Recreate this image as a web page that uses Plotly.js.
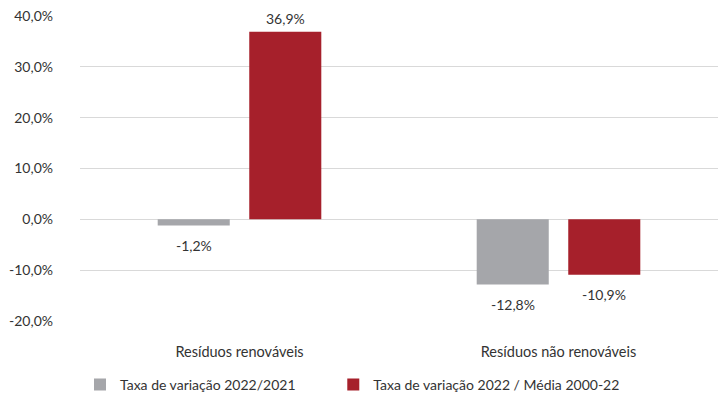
<!DOCTYPE html>
<html>
<head>
<meta charset="utf-8">
<script src="https://cdn.plot.ly/plotly-3.0.1.min.js"></script>
<style>html,body{margin:0;padding:0;background:#fff;}#chart{width:719px;height:398px;}</style>
</head>
<body>
<div id="chart"></div>
<script>
const categories = ["Resíduos renováveis", "Resíduos não renováveis"];
const seriesNames = ["Taxa de variação 2022/2021", "Taxa de variação 2022 / Média 2000-22"];
const series1 = [-1.2, -12.8];
const series2 = [36.9, -10.9];
const yTickVals = [-20, -10, 0, 10, 20, 30, 40];

const fmt = v => v.toFixed(1).replace('.', ',') + '%';
const colors = ['#A5A6AA', '#A6202B'];
const font = {family: 'Lato, "Open Sans", sans-serif', size: 14, color: '#333333'};

const traces = [series1, series2].map((vals, i) => ({
  type: 'bar', name: seriesNames[i], x: categories, y: vals,
  marker: {color: colors[i]}, hoverinfo: 'skip',
  legend: i === 0 ? 'legend' : 'legend2'
}));

const annotations = [];
[series1, series2].forEach((vals, i) => {
  vals.forEach((v, j) => {
    annotations.push({
      x: categories[j], y: v, xref: 'x', yref: 'y', text: fmt(v), showarrow: false,
      xshift: (i === 0 ? -1 : 1) * 45.75, yshift: v >= 0 ? 13 : -20,
      font: font
    });
  });
});

const legendBase = {orientation: 'h', xanchor: 'left', yref: 'container', y: 0.033, yanchor: 'middle', font: font};

const layout = {
  width: 719, height: 398,
  margin: {l: 80, r: 1, t: 16, b: 77},
  paper_bgcolor: '#fff', plot_bgcolor: '#fff',
  font: font,
  barmode: 'group', bargap: 0.426, bargroupgap: 0.213,
  showlegend: true,
  legend: Object.assign({}, legendBase, {x: 0.0}),
  legend2: Object.assign({}, legendBase, {x: 0.397}),
  xaxis: {showgrid: false, zeroline: false, showline: false, ticks: '',
          tickfont: Object.assign({}, font, {size: 14.5}), ticklabelstandoff: 20},
  yaxis: {range: [-20, 40], tickvals: yTickVals, ticktext: yTickVals.map(fmt),
          showgrid: true, gridcolor: '#D9D9D9', gridwidth: 1,
          zeroline: true, zerolinecolor: '#D9D9D9', zerolinewidth: 1,
          showline: false, ticks: '', tickfont: font, ticklabelstandoff: 26},
  annotations: annotations
};

Plotly.newPlot('chart', traces, layout, {displayModeBar: false, staticPlot: true});
</script>
</body>
</html>
